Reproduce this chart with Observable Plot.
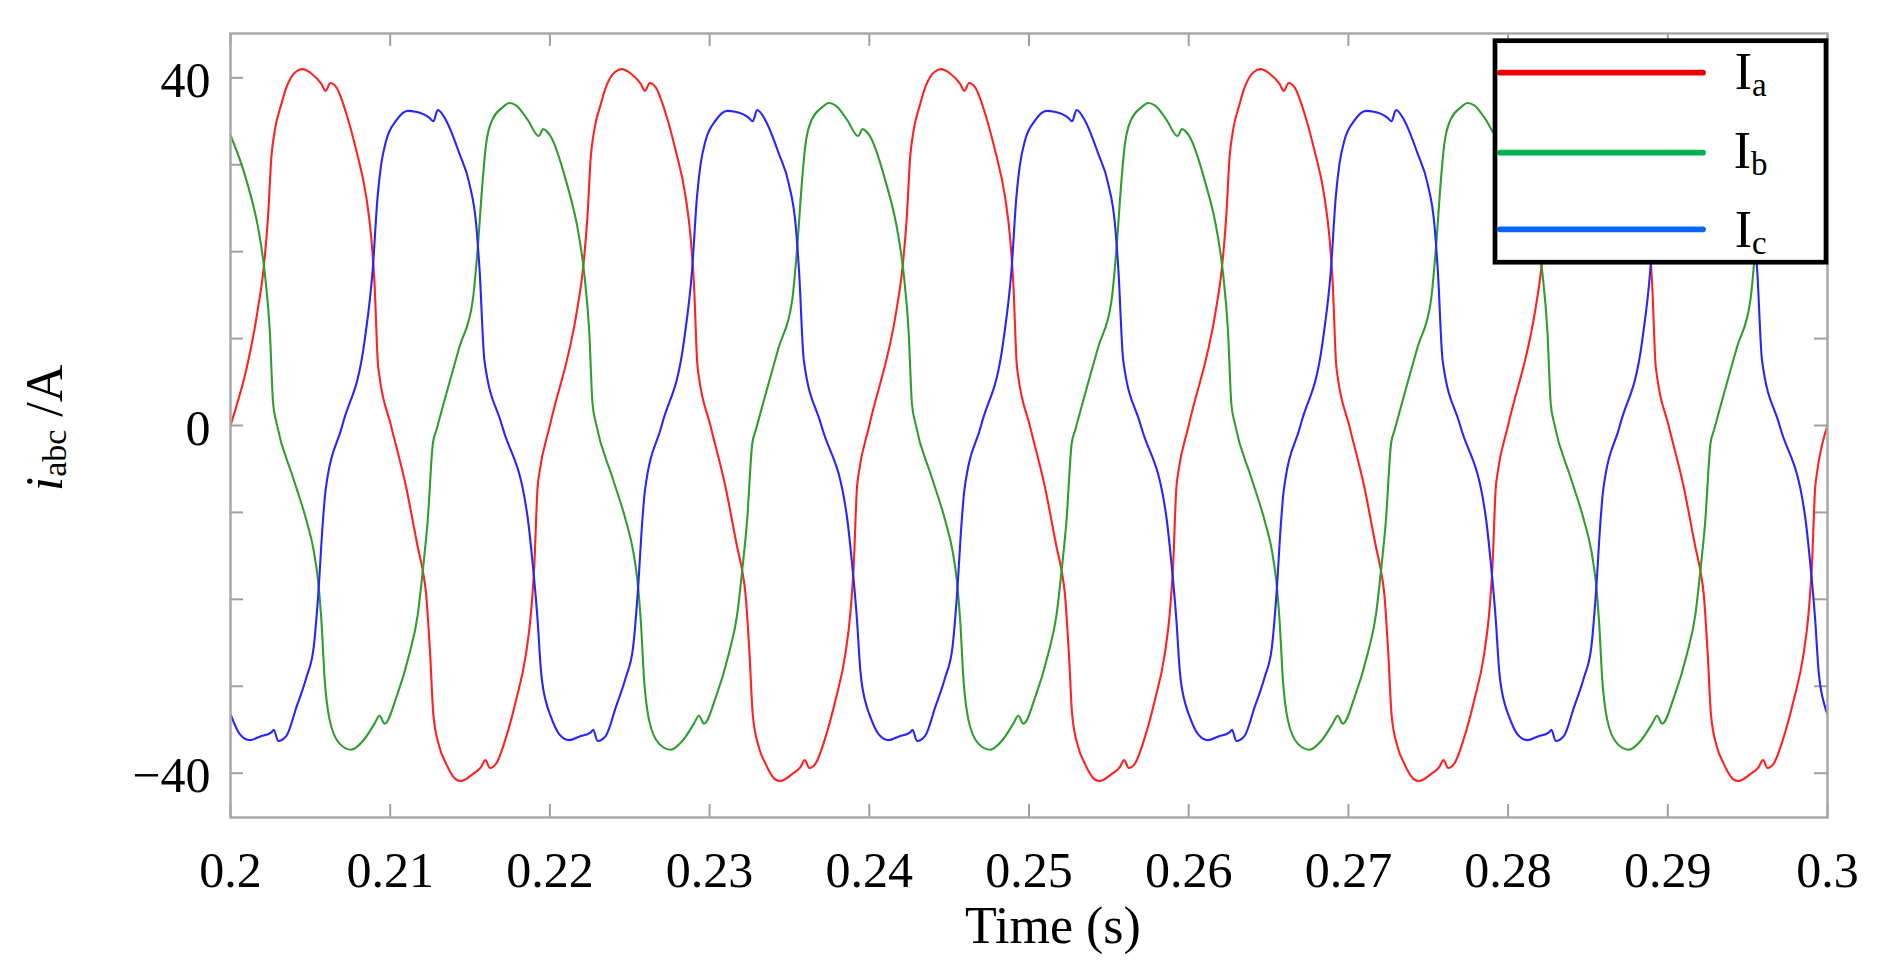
<!DOCTYPE html>
<html>
<head>
<meta charset="utf-8">
<script src="https://cdn.jsdelivr.net/npm/d3@7"></script>
<script src="https://cdn.jsdelivr.net/npm/@observablehq/plot@0.6"></script>
<style>
  html, body { margin: 0; padding: 0; background: #fff; }
  #chart svg { display: block; }
</style>
</head>
<body>
<div id="chart"></div>
<script>
// ---------- data ----------
const periodStarts = [0.20, 0.22, 0.24, 0.26, 0.28]; // s, steady-state period of 20 ms
const seriesNames = ["Ia", "Ib", "Ic"];

// phase a (red): time offset within the period (ms) and current (A)
const iaOffsetsMs = [0, 1.73, 2.04, 2.35, 2.56, 2.77, 3.19, 3.5, 3.81, 4.1, 4.5, 5.06, 5.69, 5.96, 6.25, 6.63, 7.25, 7.88, 8.5, 8.81, 9.02, 9.23, 9.33, 10.05,
  11.0, 11.73, 12.04, 12.25, 12.5, 12.7, 13.08, 13.5, 13.71, 14.1, 14.44, 15.17, 15.69, 15.96, 16.25, 16.63, 17.25, 17.88, 18.5, 18.81, 19.02, 19.23, 19.33, 20];
const iaValues = [0, 13.6, 17.5, 24.0, 30.9, 33.9, 37.0, 38.9, 40.1, 40.7, 41.0, 40.5, 39.3, 38.5, 39.4, 38.9, 35.9, 31.6, 26.3, 21.7, 16.3, 7.1, 5.6, 0,
  -7.1, -14.0, -16.7, -19.4, -26.3, -33.2, -37.0, -38.9, -39.7, -40.7, -40.9, -40.1, -39.3, -38.5, -39.4, -38.9, -35.9, -31.6, -26.3, -21.7, -16.3, -7.1, -5.6, 0];

// phase b (green)
const ibOffsetsMs = [0, 1.0, 1.83, 2.15, 2.46, 2.67, 2.88, 3.9, 4.75, 5.21, 5.48, 5.69, 5.9, 6.21, 6.83, 7.56, 8.29, 9.02, 9.33, 9.65, 10.38, 11.2, 11.73, 12.04, 12.35, 12.67,
  12.9, 14.33, 15.17, 15.48, 15.79, 16.0, 16.4, 17.04, 17.46, 17.9, 18.6, 19.3, 19.58, 20];
const ibValues = [33.4, 28.2, 21.7, 17.5, 10.9, 2.5, 0.3, -5.9, -10.9, -14.4, -17.8, -22.4, -29.3, -33.9, -36.6, -37.3, -36.3, -34.3, -33.4, -34.3, -31.3, -26.3, -21.7, -16.7, -10.9, -2.1,
  -0.5, 9.0, 14.4, 20.4, 28.2, 32.3, 35.2, 36.6, 37.1, 36.8, 35.2, 33.3, 34.1, 33.4];

// phase c (blue)
const icOffsetsMs = [0, 0.58, 1.21, 1.83, 2.56, 2.71, 2.98, 3.5, 4.13, 4.75, 5.21, 5.48, 5.79, 5.95, 7.0, 8.4, 8.9, 9.21, 9.44, 9.75, 10.38, 11.1, 11.6, 12.46, 12.7,
  12.98, 13.5, 14.33, 14.96, 15.38, 15.6, 15.9, 17.0, 18.6, 18.9, 19.23, 19.44, 19.85, 20];
const icValues = [-33.2, -35.5, -36.2, -35.8, -35.3, -35.0, -36.3, -35.7, -32.4, -29.0, -25.5, -19.8, -10.9, -7.5, 0, 9.8, 17.8, 26.3, 30.1, 32.8, 35.1, 36.2, 36.1, 35.4, 35.0,
  36.3, 35.1, 31.3, 27.8, 23.2, 17.8, 7.5, 0, -10.5, -15.5, -22.4, -28.2, -32.4, -33.2];

const xTicks = [0.2, 0.21, 0.22, 0.23, 0.24, 0.25, 0.26, 0.27, 0.28, 0.29, 0.3];
const xTickLabels = ["0.2", "0.21", "0.22", "0.23", "0.24", "0.25", "0.26", "0.27", "0.28", "0.29", "0.3"];
const yTicks = [-40, -30, -20, -10, 0, 10, 20, 30, 40];
const yLabelTicks = [-40, 0, 40];
const yTickLabels = ["\u221240", "0", "40"];

// ---------- styles ----------
const lineColors = ["#ff2222", "#2f9e2f", "#2626ff"];
const legendColors = ["#ee0000", "#00b050", "#0066ff"];
const FONT = "'Liberation Serif', 'Times New Roman', Times, serif";

function buildPhase(offsets, values) {
  const rows = [];
  periodStarts.forEach((start, p) => {
    offsets.forEach((o, i) => {
      if (o === 20 && p < periodStarts.length - 1) return; // next period starts there
      rows.push({t: start + o / 1000, v: values[i]});
    });
  });
  return rows;
}
const phases = [buildPhase(iaOffsetsMs, iaValues), buildPhase(ibOffsetsMs, ibValues), buildPhase(icOffsetsMs, icValues)];

const W = 1895, H = 975;
const mL = 230, mR = 68, mT = 33, mB = 158;
const innerW = W - mL - mR, innerH = H - mT - mB;
const tickLen = 13;

const chart = Plot.plot({
  width: W, height: H,
  marginLeft: mL, marginRight: mR, marginTop: mT, marginBottom: mB,
  style: {fontFamily: FONT, background: "white", color: "black"},
  x: {domain: [0.2, 0.3]},
  y: {domain: [-45.1, 45.1]},
  marks: [
    // inner tick marks on all four sides
    Plot.tickX(xTicks, {x: d => d, insetTop: innerH - tickLen, stroke: "#a0a0a0", strokeWidth: 2}),
    Plot.tickX(xTicks, {x: d => d, insetBottom: innerH - tickLen, stroke: "#a0a0a0", strokeWidth: 2}),
    Plot.tickY(yTicks, {y: d => d, insetRight: innerW - tickLen, stroke: "#a0a0a0", strokeWidth: 2}),
    Plot.tickY(yTicks, {y: d => d, insetLeft: innerW - tickLen, stroke: "#a0a0a0", strokeWidth: 2}),
    // curves
    ...phases.map((rows, k) => Plot.line(rows, {x: "t", y: "v", stroke: lineColors[k], strokeWidth: 2.1, curve: "monotone-x", clip: true})),
    Plot.frame({stroke: "#a8a8a8", strokeWidth: 2.5}),
    // tick labels
    Plot.axisX(xTicks, {anchor: "bottom", tickSize: 0, tickPadding: 34, fontSize: 50, fill: "black",
      tickFormat: (d) => xTickLabels[xTicks.indexOf(d)], label: null}),
    Plot.axisY(yLabelTicks, {anchor: "left", tickSize: 0, tickPadding: 20, fontSize: 50, fill: "black", dy: 3,
      tickFormat: (d) => yTickLabels[yLabelTicks.indexOf(d)], label: null}),
    Plot.text(["Time (s)"], {text: d => d, frameAnchor: "bottom", lineAnchor: "bottom", dy: 125, dx: 24, fontSize: 52, fill: "black"})
  ]
});

document.getElementById("chart").appendChild(chart);

// ---------- y-axis title with italic i and subscript ----------
const svg = d3.select(chart);
const ylab = svg.append("text")
  .attr("transform", "translate(62,428) rotate(-90)")
  .attr("text-anchor", "middle")
  .attr("font-family", FONT)
  .attr("font-size", 52)
  .attr("fill", "black");
ylab.append("tspan").attr("font-style", "italic").text("i");
ylab.append("tspan").attr("font-size", 34).attr("dy", 4).text("abc");
ylab.append("tspan").attr("dy", -4).text("\u00a0/A");

// ---------- legend ----------
const lg = svg.append("g");
lg.append("rect").attr("x", 1495).attr("y", 40.7).attr("width", 331).attr("height", 221.5)
  .attr("fill", "white").attr("stroke", "none");
const rowLineY = [72.7, 152.7, 229.3];
const rowBaseY = [89.3, 168.3, 246.7];
seriesNames.forEach((name, i) => {
  lg.append("line").attr("x1", 1500).attr("x2", 1703).attr("y1", rowLineY[i]).attr("y2", rowLineY[i])
    .attr("stroke", legendColors[i]).attr("stroke-width", 5.7).attr("stroke-linecap", "round");
  const t = lg.append("text").attr("x", 1750.7).attr("y", rowBaseY[i])
    .attr("font-family", FONT).attr("font-size", 52).attr("fill", "black");
  t.append("tspan").text(name.charAt(0));
  t.append("tspan").attr("font-size", 33).attr("dy", 7).text(name.slice(1));
});
lg.append("rect").attr("x", 1495).attr("y", 40.7).attr("width", 331).attr("height", 221.5)
  .attr("fill", "none").attr("stroke", "black").attr("stroke-width", 4.7);
</script>
</body>
</html>
